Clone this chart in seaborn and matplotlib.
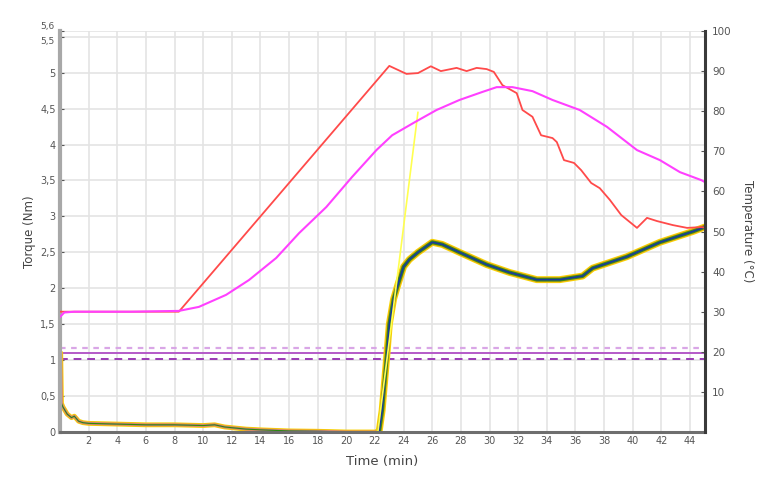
import numpy as np
import pandas as pd
import matplotlib
matplotlib.use("Agg")
import matplotlib.pyplot as plt
import matplotlib.transforms as mtrans
import seaborn as sns

# -------------------------------
# Data
# -------------------------------
# set temperature (red), right axis
set_time = [0, 8.3, 23.0, 24.2, 25.0, 25.9, 26.6, 27.7, 28.4, 29.1, 29.8, 30.3, 30.9,
            31.9, 32.3, 33.0, 33.6, 34.4, 34.7, 35.2, 35.9, 36.4, 37.1, 37.7, 38.4,
            39.2, 40.3, 41.0, 41.7, 42.8, 43.8, 44.8, 45.0]
set_temp = [30, 30, 91.3, 89.3, 89.5, 91.2, 90.0, 90.8, 90.0, 90.8, 90.5, 89.8, 86.5,
            84.5, 80.3, 78.6, 74.0, 73.3, 72.3, 67.8, 67.1, 65.3, 62.1, 60.8, 57.9,
            54.1, 50.9, 53.4, 52.6, 51.6, 50.9, 51.1, 51.0]

# measured temperature (magenta), right axis
meas_time = [0, 0.3, 1, 5, 8.3, 9.7, 11.6, 13.2, 15.1, 16.7, 18.6, 20.4, 22.1, 23.2,
             24.8, 26.3, 27.9, 29.5, 30.5, 31.6, 33.0, 34.4, 36.3, 38.2, 40.3, 41.9,
             43.3, 44.8, 45.0]
meas_temp = [28.7, 29.8, 30.0, 30.0, 30.2, 31.2, 34.2, 37.9, 43.4, 49.6, 56.1, 63.6,
             70.3, 74.0, 77.3, 80.3, 82.8, 84.8, 86.0, 86.0, 85.0, 82.8, 80.3, 76.1,
             70.3, 67.8, 64.8, 62.8, 62.4]

# torque, left axis: loading phase and curing phase
early_time = [0.05, 0.1, 0.2, 0.5, 0.8, 1.0, 1.3, 1.6, 2, 4, 6, 8, 10, 10.8, 11.5, 12,
              13, 14, 16, 18, 20, 22, 22.3]
early_torque = [1.1, 0.4, 0.35, 0.25, 0.2, 0.22, 0.15, 0.13, 0.12, 0.11, 0.1, 0.1, 0.09,
                0.1, 0.07, 0.06, 0.04, 0.03, 0.015, 0.01, 0.0, 0.0, 0.02]
cure_time = [22.3, 22.5, 22.8, 23.0, 23.3, 23.6, 24.0, 24.4, 25.0, 26.0, 26.7, 27.9,
             29.8, 31.4, 33.3, 34.9, 36.5, 37.2, 39.6, 41.9, 44.2, 45.0]
cure_torque = [0.02, 0.3, 1.0, 1.5, 1.85, 2.05, 2.3, 2.4, 2.5, 2.64, 2.61, 2.5, 2.33,
               2.22, 2.12, 2.12, 2.17, 2.28, 2.44, 2.64, 2.79, 2.85]

# single yellow ramp
ramp_time = [22.2, 25.0]
ramp_torque = [0.0, 4.45]

# reference lines (torque)
ref_upper = 1.17
ref_mid = 1.1
ref_lower = 1.01

x_ticks = list(range(2, 45, 2))
torque_ticks = [0, 0.5, 1, 1.5, 2, 2.5, 3, 3.5, 4, 4.5, 5, 5.5, 5.58]
torque_labels = ["0", "0,5", "1", "1,5", "2", "2,5", "3", "3,5", "4", "4,5", "5", "5,5", "5,6"]
temp_ticks = list(range(10, 101, 10))

df_set = pd.DataFrame({"t": set_time, "v": set_temp})
df_meas = pd.DataFrame({"t": meas_time, "v": meas_temp})
df_early = pd.DataFrame({"t": early_time, "v": early_torque})
df_cure = pd.DataFrame({"t": cure_time, "v": cure_torque})
df_ramp = pd.DataFrame({"t": ramp_time, "v": ramp_torque})

# -------------------------------
# Plot
# -------------------------------
sns.set_style("white")
plt.rcParams["font.family"] = ["DejaVu Sans"]

fig = plt.figure(figsize=(7.83, 4.82), dpi=100)
ax = fig.add_axes([60 / 783, 1 - 432 / 482, 645 / 783, 401 / 482])
ax2 = ax.twinx()

# reference lines
ax.axhline(ref_upper, color="#d9a6e6", lw=1.6, ls=(0, (2.5, 2.5)))
ax.axhline(ref_mid, color="#b45ac8", lw=1.4)
ax.axhline(ref_lower, color="#9a3ab4", lw=1.4, ls=(0, (4, 3)))

# loading phase (thin overlapping traces)
sns.lineplot(data=df_early, x="t", y="v", ax=ax, color="#f7d000", lw=3.5)
sns.lineplot(data=df_early, x="t", y="v", ax=ax, color="#f0a040", lw=2.4)
sns.lineplot(data=df_early, x="t", y="v", ax=ax, color="#c87a8a", lw=1.6)
sns.lineplot(data=df_early, x="t", y="v", ax=ax, color="#2a8a10", lw=0.8)

# curing phase band (overlapping measurement traces)
sns.lineplot(data=df_cure, x="t", y="v", ax=ax, color="#f7d800", lw=5.0)
sns.lineplot(data=df_cure, x="t", y="v", ax=ax, color="#f09a20", lw=3.8, alpha=0.8)
sns.lineplot(data=df_cure, x="t", y="v", ax=ax, color="#3c8c10", lw=2.8)
sns.lineplot(data=df_cure, x="t", y="v", ax=ax, color="#1838a0", lw=1.2)
sns.lineplot(data=df_ramp, x="t", y="v", ax=ax, color="#ffff50", lw=1.2)

# temperatures
sns.lineplot(data=df_set, x="t", y="v", ax=ax2, color="#ff4a4a", lw=1.3)
sns.lineplot(data=df_meas, x="t", y="v", ax=ax2, color="#ff40ff", lw=1.5)

ax.set_xlim(0, 45.05)
ax.set_ylim(0, 5.58)
ax2.set_ylim(0, 100)

ax.set_xticks(x_ticks)
ax.set_xticklabels([str(v) for v in x_ticks])
ax.set_yticks(torque_ticks)
# the two top labels sit very close: draw them as separate texts nudged apart
ax.set_yticklabels(torque_labels[:-2] + ["", ""])
lab_tr = mtrans.blended_transform_factory(ax.transAxes, ax.transData)
ax.text(-0.008, torque_ticks[-1], torque_labels[-1], transform=lab_tr, ha="right",
        va="bottom", fontsize=6.5, color="#555555")
ax.text(-0.008, torque_ticks[-2], torque_labels[-2], transform=lab_tr, ha="right",
        va="top", fontsize=6.5, color="#555555")
ax2.set_yticks(temp_ticks)
ax2.set_yticklabels([str(v) for v in temp_ticks])

ax.grid(True, color="#e4e4e4", lw=1.2)
ax.set_axisbelow(True)

for a in (ax, ax2):
    a.spines["top"].set_visible(False)
ax.spines["right"].set_visible(False)
ax2.spines["left"].set_visible(False)
ax2.spines["bottom"].set_visible(False)
ax.spines["left"].set_color("#a8a8a8")
ax.spines["left"].set_linewidth(3)
ax.spines["bottom"].set_color("#6e6e6e")
ax.spines["bottom"].set_linewidth(2.2)
ax2.spines["right"].set_color("#3a3a3a")
ax2.spines["right"].set_linewidth(2.2)

ax.tick_params(axis="both", direction="in", length=3, labelsize=7, colors="#555555", pad=3)
ax2.tick_params(axis="y", direction="in", length=3, labelsize=7.5, colors="#555555", pad=5)

ax.set_xlabel("Time (min)", fontsize=9.5, color="#444444", labelpad=6)
ax.set_ylabel("Torque (Nm)", fontsize=8.5, color="#444444", labelpad=3)
ax2.set_ylabel("Temperature (°C)", fontsize=8.5, color="#444444", rotation=270, labelpad=16)

fig.savefig("out.png", dpi=100)
